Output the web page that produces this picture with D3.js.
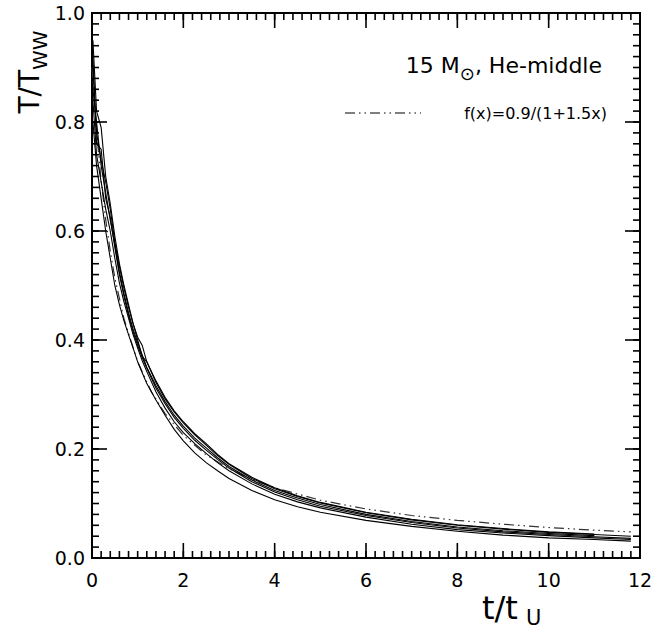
<!DOCTYPE html>
<html>
<head>
<meta charset="utf-8">
<script src="https://cdn.jsdelivr.net/npm/d3@7"></script>
<style>
  body { margin: 0; background: #fff; }
  svg { display: block; font-family: "DejaVu Sans", Verdana, sans-serif; }
</style>
</head>
<body>
<svg id="chart" width="662" height="632"></svg>
<script>
// sample positions along t/t_U shared by every run
const tGrid = [0.02, 0.1, 0.2, 0.3, 0.4, 0.5, 0.6, 0.7, 0.8, 0.9, 1.0, 1.1, 1.2, 1.4, 1.6, 1.8,
               2.0, 2.25, 2.5, 2.75, 3.0, 3.5, 4.0, 4.5, 5.0, 6.0, 7.0, 8.0, 9.0, 10.0, 11.0, 11.8];

// T/T_WW for each run
const run1 = [0.95, 0.82, 0.79, 0.70, 0.65, 0.59, 0.54, 0.50, 0.465, 0.43, 0.405, 0.39, 0.36, 0.325, 0.295, 0.27,
              0.25, 0.228, 0.21, 0.19, 0.173, 0.148, 0.129, 0.114, 0.102, 0.084, 0.071, 0.061, 0.054, 0.048, 0.044];
const run2 = [0.90, 0.78, 0.73, 0.69, 0.64, 0.58, 0.535, 0.495, 0.46, 0.43, 0.40, 0.37, 0.36, 0.322, 0.292, 0.268,
              0.248, 0.226, 0.207, 0.188, 0.172, 0.146, 0.127, 0.113, 0.101, 0.083, 0.070, 0.060, 0.053, 0.047, 0.043, 0.040];
const run3 = [0.86, 0.80, 0.72, 0.67, 0.62, 0.575, 0.525, 0.485, 0.45, 0.42, 0.395, 0.372, 0.35, 0.316, 0.287, 0.262,
              0.242, 0.22, 0.202, 0.184, 0.168, 0.143, 0.124, 0.110, 0.098, 0.080, 0.067, 0.057, 0.050, 0.045, 0.041];
const run4 = [0.92, 0.76, 0.75, 0.66, 0.625, 0.57, 0.52, 0.48, 0.445, 0.415, 0.39, 0.368, 0.348, 0.312, 0.283, 0.258,
              0.238, 0.216, 0.198, 0.181, 0.165, 0.14, 0.121, 0.107, 0.095, 0.078, 0.065, 0.055, 0.048, 0.043, 0.039, 0.036];
const run5 = [0.84, 0.74, 0.69, 0.64, 0.60, 0.55, 0.505, 0.47, 0.44, 0.41, 0.385, 0.362, 0.342, 0.305, 0.275, 0.25,
              0.23, 0.21, 0.192, 0.175, 0.16, 0.136, 0.117, 0.103, 0.092, 0.075, 0.062, 0.052, 0.046, 0.041, 0.037, 0.034];
const run6 = [0.80, 0.72, 0.66, 0.60, 0.55, 0.50, 0.465, 0.435, 0.41, 0.385, 0.36, 0.34, 0.32, 0.29, 0.262, 0.236,
              0.215, 0.193, 0.175, 0.16, 0.146, 0.124, 0.107, 0.094, 0.084, 0.069, 0.058, 0.049, 0.042, 0.037, 0.034, 0.031];
const runs = [run1, run2, run3, run4, run5, run6];

// the dash-dot reference curve, as drawn
const fitT = [0.0, 0.1, 0.2, 0.3, 0.4, 0.5, 0.7, 1.0, 1.3, 1.6, 2.0, 2.5, 3.0, 3.5, 4.0, 5.0, 6.0, 7.0, 8.0, 9.0, 10.0, 11.0, 11.8];
const fitV = [0.90, 0.783, 0.692, 0.621, 0.563, 0.514, 0.439, 0.36, 0.305, 0.265, 0.225, 0.189, 0.164, 0.144, 0.129,
              0.106, 0.090, 0.078, 0.069, 0.062, 0.056, 0.051, 0.048];

const xTicks = [0, 2, 4, 6, 8, 10, 12];
const yTicks = [0.0, 0.2, 0.4, 0.6, 0.8, 1.0];

const margin = {left: 92, top: 13, right: 22, bottom: 74};
const W = 662, H = 632;

const svg = d3.select("#chart");
const x = d3.scaleLinear().domain([0, 12]).range([margin.left, W - margin.right]);
const y = d3.scaleLinear().domain([0, 1]).range([H - margin.bottom, margin.top]);

const minorX = d3.range(0, 61).map(i => i * 0.2);
const minorY = d3.range(0, 51).map(i => i * 0.02);
const MINOR = 7, MAJOR = 15;

// inward ticks on all four sides
const ticks = svg.append("g").attr("stroke", "#000").attr("stroke-width", 1.6);
function xTickMarks(vals, len) {
  ticks.selectAll(null).data(vals).enter().append("line")
    .attr("x1", d => x(d)).attr("x2", d => x(d))
    .attr("y1", y(0)).attr("y2", y(0) - len);
  ticks.selectAll(null).data(vals).enter().append("line")
    .attr("x1", d => x(d)).attr("x2", d => x(d))
    .attr("y1", y(1)).attr("y2", y(1) + len);
}
function yTickMarks(vals, len) {
  ticks.selectAll(null).data(vals).enter().append("line")
    .attr("y1", d => y(d)).attr("y2", d => y(d))
    .attr("x1", x(0)).attr("x2", x(0) + len);
  ticks.selectAll(null).data(vals).enter().append("line")
    .attr("y1", d => y(d)).attr("y2", d => y(d))
    .attr("x1", x(12)).attr("x2", x(12) - len);
}
xTickMarks(minorX, MINOR);
xTickMarks(xTicks, MAJOR);
yTickMarks(minorY, MINOR);
yTickMarks(yTicks, MAJOR);

// tick labels
svg.append("g").selectAll("text").data(xTicks).enter().append("text")
  .attr("x", d => x(d)).attr("y", y(0) + 29)
  .attr("text-anchor", "middle").attr("font-size", 19).attr("fill", "#000")
  .text(d3.format("d"));
svg.append("g").selectAll("text").data(yTicks).enter().append("text")
  .attr("x", x(0) - 7).attr("y", d => y(d)).attr("dy", "0.35em")
  .attr("text-anchor", "end").attr("font-size", 19).attr("fill", "#000")
  .text(d3.format(".1f"));

// frame
svg.append("rect")
  .attr("x", x(0)).attr("y", y(1))
  .attr("width", x(12) - x(0)).attr("height", y(0) - y(1))
  .attr("fill", "none").attr("stroke", "#000").attr("stroke-width", 2);

// data curves
const line = d3.line().x(d => x(d[0])).y(d => y(d[1]));

svg.append("path")
  .datum(fitT.map((t, i) => [t, fitV[i]]))
  .attr("fill", "none").attr("stroke", "#333").attr("stroke-width", 1.2)
  .attr("stroke-dasharray", "10,4,1.5,4,1.5,4")
  .attr("d", line);

runs.forEach(r => {
  svg.append("path")
    .datum(r.map((v, i) => [tGrid[i], v]))
    .attr("fill", "none").attr("stroke", "#000").attr("stroke-width", 1.1)
    .attr("d", line);
});

// annotation + legend
const note = svg.append("text").attr("x", 602).attr("y", 73)
  .attr("text-anchor", "end").attr("font-size", 22).attr("fill", "#000");
note.append("tspan").text("15 M");
note.append("tspan").attr("font-size", 18).attr("dy", 7).text("\u2299");
note.append("tspan").attr("dy", -7).text(", He-middle");

svg.append("line")
  .attr("x1", 345).attr("x2", 421).attr("y1", 113).attr("y2", 113)
  .attr("stroke", "#555").attr("stroke-width", 1.6)
  .attr("stroke-dasharray", "10,4,1.5,4,1.5,4");
svg.append("text").attr("x", 607).attr("y", 119)
  .attr("text-anchor", "end").attr("font-size", 16).attr("fill", "#000")
  .text("f(x)=0.9/(1+1.5x)");

// axis titles
const yt = svg.append("text")
  .attr("transform", "translate(39,72) rotate(-90)")
  .attr("text-anchor", "middle").attr("font-size", 28).attr("fill", "#000");
yt.append("tspan").text("T/T");
yt.append("tspan").attr("font-size", 20).attr("dy", 8).text("WW");

const xt = svg.append("text")
  .attr("x", 482).attr("y", 619)
  .attr("font-size", 32).attr("fill", "#000");
xt.append("tspan").text("t/t");
xt.append("tspan").attr("font-size", 21).attr("dx", 8).attr("dy", 6).text("U");
</script>
</body>
</html>
